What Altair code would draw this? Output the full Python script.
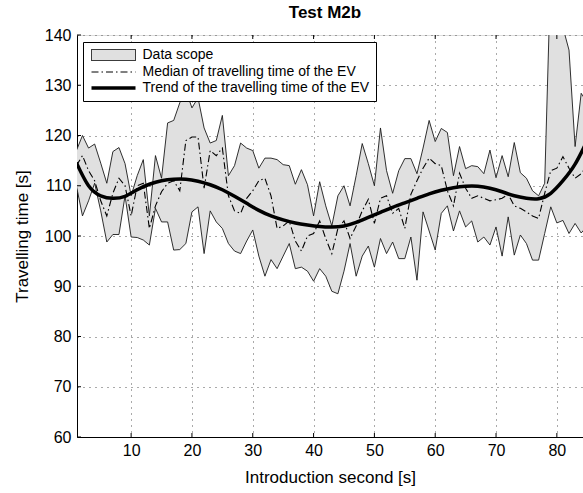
import altair as alt
import pandas as pd

# ---- data ----
seconds = list(range(1, 86))
upper = [117, 120, 117.5, 118.3, 114.5, 110.5, 116.8, 117.6, 114.4, 108,
         112, 115.2, 104, 116, 111.5, 122.5, 123, 126.5, 129, 125.5,
         127.5, 121.5, 118.5, 119, 124, 112, 114, 118.5, 117.5, 117,
         113.5, 115.5, 115.5, 115.2, 114.2, 114, 110.3, 113.2, 110.2, 104,
         110.8, 106, 102, 108, 110, 106, 112, 118.4, 114.4, 110,
         121.5, 113, 108.5, 113, 115.4, 115.4, 112.4, 117.5, 123, 118.8,
         121.4, 120.6, 112, 117.8, 113.4, 114, 113.8, 112.4, 117.1, 111.6,
         116, 111.8, 118.6, 112.6, 111.5, 109, 108, 110.5, 153, 150,
         141.5, 137, 117.8, 128.4, 126.5]
lower = [110, 104, 107, 110.5, 105, 98.8, 100.3, 100.3, 108, 99.8,
         99.7, 99.2, 98.2, 105.5, 102.8, 102.8, 97.2, 97.3, 98.5, 104.8,
         105.8, 96.5, 105, 102.8, 101.5, 98.5, 97, 96.5, 99, 101.2,
         96, 92, 95.3, 93.5, 96, 98.5, 93.5, 93.8, 93, 91,
         93.5, 92, 89, 88.5, 93, 98.5, 92, 96, 98, 93.8,
         99.5, 96.5, 98.8, 95.5, 95.5, 99.8, 91.2, 104.8, 101, 97.2,
         104.5, 106, 101, 105, 101.8, 103, 98.8, 99.8, 98.2, 101.8,
         96, 103.8, 96.2, 100.2, 98.5, 95.2, 95.2, 100.5, 105.8, 102.6,
         103.1, 100.5, 102.5, 100.6, 102]
median = [114, 116, 113, 111, 107, 104, 108.5, 111.5, 110, 104,
          110, 110.5, 101.5, 106, 108.8, 110.5, 111, 109, 119, 119.7,
          119.7, 109.5, 117, 116, 117.5, 108, 105, 104.5, 107.5, 109,
          111, 111.5, 108, 101.5, 102, 103, 99, 97, 100, 100.5,
          103, 99.5, 96.5, 101.5, 103, 99.5, 102, 105, 107.3, 102.5,
          107.5, 108, 104.5, 105.5, 101.5, 108.3, 111, 113.5, 115.5, 114.4,
          114, 109, 106, 112.5, 109.5, 107.5, 108, 107.5, 107, 107.2,
          107.5, 108.3, 106, 105.5, 104.8, 104, 103.5, 108.5, 113, 113.5,
          115.8, 113.5, 111.5, 112.4, 114]
trend_x = list(range(1, 86, 2))
trend_y = [114.6, 110.0, 108.0, 107.5, 107.9, 109.2, 110.3, 111.0, 111.3, 111.3,
           110.9, 110.2, 109.2, 107.9, 106.5, 105.1, 104.0, 103.2, 102.6, 102.2,
           101.9, 101.8, 102.0, 102.7, 103.7, 104.7, 105.7, 106.6, 107.5, 108.4,
           109.1, 109.6, 109.9, 109.9, 109.5, 108.8, 108.0, 107.5, 107.4, 108.5,
           111.0, 114.3, 119.0]
x_ticks = [10, 20, 30, 40, 50, 60, 70, 80]
y_ticks = [60, 70, 80, 90, 100, 110, 120, 130, 140]
legend_names = ["Data scope", "Median of travelling time of the EV",
                "Trend of the travelling time of the EV"]

FONT = "Liberation Sans"
W, H = 506, 402

band = pd.DataFrame({"t": seconds, "hi": upper, "lo": lower, "med": median})
trend = pd.DataFrame({"t": trend_x, "y": trend_y})
xt = pd.DataFrame({"v": x_ticks})
yt = pd.DataFrame({"v": y_ticks})

xs = alt.Scale(domain=[1.1, 84.3], nice=False, zero=False)
ys = alt.Scale(domain=[60, 140], nice=False, zero=False)

x_axis = alt.Axis(values=x_ticks, title="Introduction second [s]", grid=True,
                  gridDash=[1, 5], gridColor="#555", gridWidth=1, tickSize=0,
                  labelPadding=5, labelFontSize=16, titleFontSize=17, titlePadding=11,
                  labelFont=FONT, titleFont=FONT, labelColor="black", titleColor="black",
                  titleFontWeight="normal", domainColor="black")
y_axis = alt.Axis(values=y_ticks, title="Travelling time [s]", grid=True,
                  gridDash=[1, 5], gridColor="#555", gridWidth=1, tickSize=0,
                  labelPadding=6, labelFontSize=16, titleFontSize=17, titlePadding=13,
                  labelFont=FONT, titleFont=FONT, labelColor="black", titleColor="black",
                  titleFontWeight="normal", domainColor="black")

def X(field):
    return alt.X(field, scale=xs, axis=x_axis)

def Y(field):
    return alt.Y(field, scale=ys, axis=y_axis)

area = alt.Chart(band).mark_area(fill="#e0e0e0", stroke="#1a1a1a", strokeWidth=0.9,
                                 clip=True).encode(x=X("t:Q"), y=Y("lo:Q"), y2="hi:Q")

med_line = alt.Chart(band).mark_line(color="black", strokeWidth=1.1,
                                     strokeDash=[7, 3, 1.5, 3], clip=True).encode(
    x=X("t:Q"), y=Y("med:Q"))

trend_line = alt.Chart(trend).mark_line(color="black", strokeWidth=3.5,
                                        interpolate="natural", clip=True).encode(
    x=X("t:Q"), y=Y("y:Q"))

tick_bottom = alt.Chart(xt).mark_rule(color="black", strokeWidth=1).encode(
    x=X("v:Q"), y=alt.value(H - 4), y2=alt.value(H))
tick_top = alt.Chart(xt).mark_rule(color="black", strokeWidth=1).encode(
    x=X("v:Q"), y=alt.value(0), y2=alt.value(4))
tick_left = alt.Chart(yt).mark_rule(color="black", strokeWidth=1).encode(
    y=Y("v:Q"), x=alt.value(0), x2=alt.value(4))

leg = alt.Legend(title=None, orient="none", legendX=6, legendY=7, fillColor="white",
                 strokeColor="black", padding=6, labelFontSize=14, labelFont=FONT,
                 labelColor="black", symbolSize=121, symbolStrokeWidth=1,
                 symbolOpacity=1, symbolOffset=17.5, rowPadding=2, labelOffset=22,
                 labelLimit=400)
rect_path = "M-4,-1H4V1H-4Z"
line_path = "M-4,0H4"
bar_path = "M-4,-0.32H4V0.32H-4Z"

legend_layer = alt.Chart(pd.DataFrame({"series": legend_names})).transform_filter(
    "false").mark_point(filled=True, opacity=1).encode(
    shape=alt.Shape("series:N", scale=alt.Scale(domain=legend_names,
                    range=[rect_path, line_path, bar_path]), legend=leg),
    fill=alt.Fill("series:N", scale=alt.Scale(domain=legend_names,
                  range=["#e0e0e0", "transparent", "black"]), legend=leg),
    stroke=alt.Stroke("series:N", scale=alt.Scale(domain=legend_names,
                      range=["black", "black", "transparent"]), legend=leg),
    strokeDash=alt.StrokeDash("series:N", scale=alt.Scale(domain=legend_names,
                              range=[[1, 0], [7, 3, 1.5, 3], [1, 0]]), legend=leg),
)

chart = alt.layer(area, med_line, trend_line, tick_bottom, tick_top, tick_left,
                  legend_layer).properties(
    width=W, height=H,
    title=alt.TitleParams("Test M2b", fontSize=17, fontWeight="bold", font=FONT,
                          color="black", anchor="middle", frame="group", dx=-5,
                          offset=5),
    padding={"left": 77, "top": 35, "right": 0, "bottom": 56},
    autosize=alt.AutoSizeParams(type="none"),
).configure_view(stroke="black", strokeWidth=1).configure(background="white")

chart.save("out.html", embed_options={"renderer": "svg", "actions": False})
